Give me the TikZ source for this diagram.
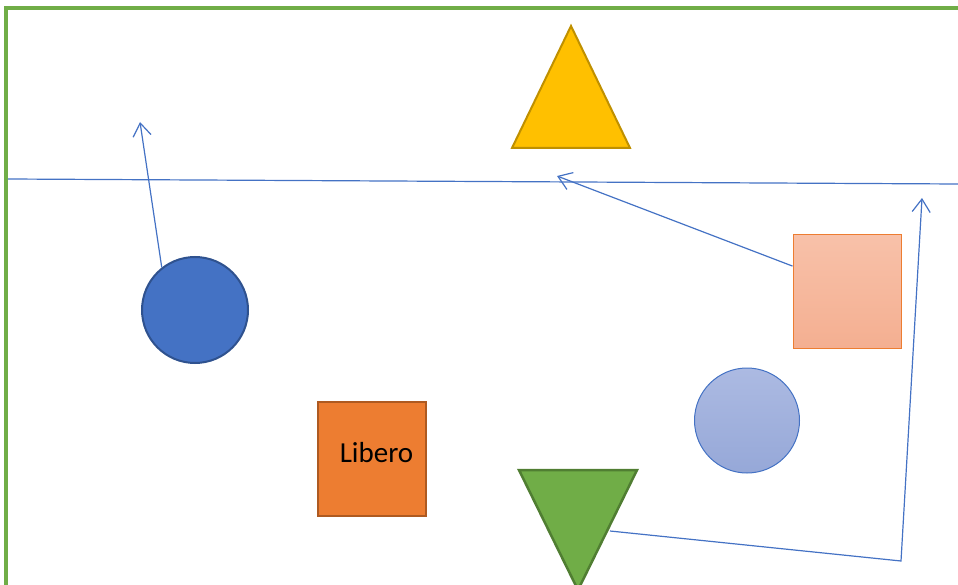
\documentclass[tikz,border=0pt]{standalone}
\usepackage{fontspec}
\setmainfont{Carlito}
\usetikzlibrary{arrows.meta}
\definecolor{frameG}{HTML}{70AD47}
\definecolor{lineB}{HTML}{4472C4}
\definecolor{darkB}{HTML}{2F528F}
\definecolor{yelF}{HTML}{FFC000}
\definecolor{yelD}{HTML}{BF9000}
\definecolor{orF}{HTML}{ED7D31}
\definecolor{orD}{HTML}{AE5A21}
\definecolor{grD}{HTML}{507E32}
\definecolor{salT}{HTML}{F8C1A9}
\definecolor{salB}{HTML}{F4AF91}
\definecolor{lbT}{HTML}{ACBAE2}
\definecolor{lbB}{HTML}{96A8D8}
\tikzset{
  conn/.style={draw=lineB, line width=1.2pt},
  arr/.style={conn, -{Straight Barb[length=13pt,width=18pt,line width=1.2pt]}},
  bigcircle/.style={circle, inner sep=0pt, minimum size=106pt},
}
\begin{document}
\begin{tikzpicture}[x=1pt,y=-1pt]
\useasboundingbox (0,0) rectangle (958,585);
\clip (0,0) rectangle (958,585);
% frame
\draw[frameG, line width=3.2pt] (6,600) -- (6,8) -- (970,8);
% horizontal line
\coordinate (hl) at (8,179);
\coordinate (hr) at (958,184);
\draw[conn] (hl) -- (hr);
% yellow triangle
\coordinate (ya) at (571,26);
\coordinate (yl) at (512,148);
\coordinate (yr) at (630,148);
\draw[fill=yelF, draw=yelD, line width=2pt, line join=miter] (ya) -- (yl) -- (yr) -- cycle;
% blue circle
\node[bigcircle, fill=lineB, draw=darkB, line width=2pt] (c1) at (195,310) {};
% salmon square
\node[rectangle, inner sep=0pt, minimum width=108pt, minimum height=113pt,
      top color=salT, bottom color=salB, draw=orF, line width=1pt] (sq) at (847,291.5) {};
% light blue circle
\node[bigcircle, minimum size=105pt, top color=lbT, bottom color=lbB, draw=lineB, line width=1pt] (c2) at (747,420.5) {};
% orange square
\node[rectangle, inner sep=0pt, minimum width=108pt, minimum height=114pt,
      fill=orF, draw=orD, line width=2pt] (lib) at (371.5,459) {};
\node[font=\fontsize{29}{33}\selectfont, text=black, anchor=base] (libt) at (376.5,462) {Libero};
% green triangle
\coordinate (gl) at (519,470);
\coordinate (gr) at (637,470);
\coordinate (gb) at (578,590);
\draw[fill=frameG, draw=grD, line width=2.5pt, line join=miter] (gl) -- (gr) -- (gb) -- cycle;
% arrows
\coordinate (t1) at (140,122);
\draw[arr] (c1.128) -- (t1);
\coordinate (t2) at (557,176);
\draw[arr] (sq.155) -- (t2);
\coordinate (s3) at (610,531);
\coordinate (k3) at (901,561);
\coordinate (t3) at (922,198);
\draw[arr] (s3) -- (k3) -- (t3);
\end{tikzpicture}
\end{document}
